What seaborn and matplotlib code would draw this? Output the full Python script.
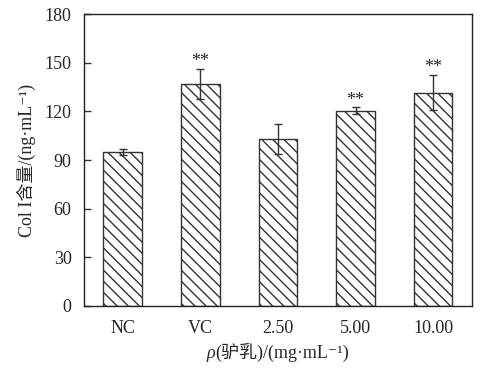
import numpy as np
import pandas as pd
import matplotlib
matplotlib.use("Agg")
import matplotlib.pyplot as plt
import seaborn as sns
from matplotlib.offsetbox import TextArea, HPacker, AnchoredOffsetbox

# data
groups = ["NC", "VC", "2.50", "5.00", "10.00"]
means = [95.0, 137.0, 103.0, 120.5, 131.5]
errs = [2.0, 9.3, 9.2, 2.0, 10.9]
marks = ["", "**", "", "**", "**"]

sns.set_style("ticks")
fonts = ["Liberation Serif", "Noto Sans CJK SC", "DejaVu Serif"]
plt.rcParams["font.family"] = fonts
plt.rcParams["hatch.linewidth"] = 1.0
plt.rcParams["hatch.color"] = "#222222"

df = pd.DataFrame({"group": groups, "value": means})

fig = plt.figure(figsize=(4.89, 3.70), dpi=100)
ax = fig.add_axes([0.172, 0.173, 0.793, 0.789])

sns.barplot(data=df, x="group", y="value", order=groups, color="white",
            edgecolor="#333333", linewidth=1.0, width=0.5, errorbar=None,
            ax=ax)
for p in ax.patches:
    p.set_hatch("\\\\\\")

xpos = np.arange(len(groups))
ax.errorbar(xpos, means, yerr=errs, fmt="none", ecolor="#333333",
            elinewidth=1.0, capsize=2.8, capthick=1.0)

for i, m in enumerate(marks):
    if m:
        ax.annotate(m, (xpos[i], means[i] + errs[i]), xytext=(0, -1),
                    textcoords="offset points", ha="center", va="bottom",
                    fontsize=13)

ax.set_xlim(-0.5, len(groups) - 0.5)
ax.set_ylim(0, 180)
ax.set_yticks(np.arange(0, 181, 30))
ax.tick_params(axis="both", direction="in", labelsize=13, width=1.0,
               color="#333333")
ax.tick_params(axis="y", length=5, pad=9)
ax.tick_params(axis="x", length=3.5, pad=10)
for s in ax.spines.values():
    s.set_visible(True)
    s.set_linewidth(1.0)
    s.set_color("#222222")

ax.set_xlabel("")
ax.set_ylabel("Col I含量/(ng·mL⁻¹)", fontsize=13, labelpad=6)

# x label with italic rho
t1 = TextArea("ρ", textprops=dict(fontsize=13, style="italic", family=fonts))
t2 = TextArea("(驴乳)/(mg·mL⁻¹)", textprops=dict(fontsize=13, family=fonts))
pack = HPacker(children=[t1, t2], align="baseline", pad=0, sep=0)
box = AnchoredOffsetbox(loc="center", child=pack, pad=0, frameon=False,
                        bbox_to_anchor=(0.5, -0.158),
                        bbox_transform=ax.transAxes, borderpad=0)
ax.add_artist(box)

fig.savefig("out.png", dpi=100)
